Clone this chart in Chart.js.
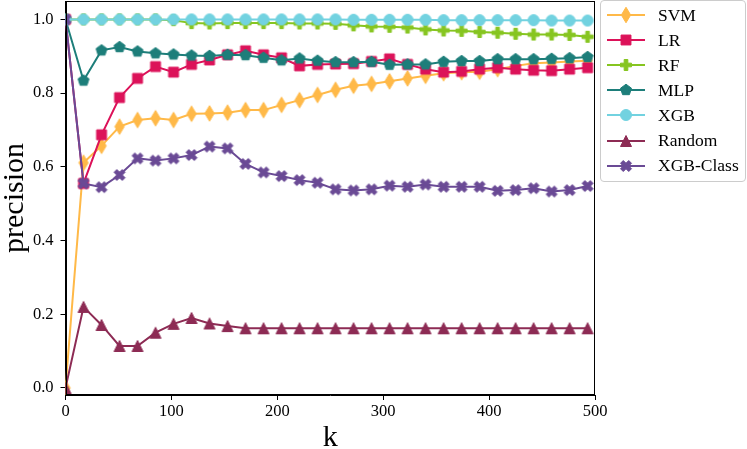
<!DOCTYPE html>
<html>
<head>
<meta charset="utf-8">
<script src="https://cdn.jsdelivr.net/npm/chart.js@4.4.1/dist/chart.umd.min.js"></script>
<style>
  html, body { margin: 0; padding: 0; background: #fff; }
  #contenedor { position: relative; width: 747px; height: 449px; }
  #leyenda {
    position: absolute; left: 600px; top: 0; width: 146px; height: 182px;
    box-sizing: border-box; border: 1px solid #cccccc; border-radius: 4px;
    font-family: "Liberation Serif"; font-size: 17.5px; color: #000;
  }
  .fila { position: absolute; left: 0; height: 22px; display: flex; align-items: center; }
  .fila canvas { margin-left: 6px; }
  .fila span { margin-left: 13px; white-space: nowrap; }
</style>
</head>
<body>
<div id="contenedor">
  <canvas id="myChart"></canvas>
  <div id="leyenda"></div>
</div>
<script>
// eje x: k
const kValores = [0, 17, 34, 51, 68, 85, 102, 119, 136, 153, 170, 187, 204, 221, 238,
  255, 272, 289, 306, 323, 340, 357, 374, 391, 408, 425, 442, 459, 476, 493];

const svm = [0.0, 0.611, 0.657, 0.709, 0.727, 0.732, 0.727, 0.744, 0.745, 0.747, 0.754, 0.754, 0.768, 0.781, 0.795,
  0.809, 0.820, 0.825, 0.832, 0.840, 0.847, 0.854, 0.857, 0.858, 0.865, 0.874, 0.881, 0.883, 0.886, 0.888];
const lr = [1.0, 0.555, 0.687, 0.788, 0.840, 0.872, 0.857, 0.878, 0.890, 0.904, 0.915, 0.904, 0.896, 0.874, 0.878,
  0.879, 0.880, 0.886, 0.893, 0.878, 0.865, 0.857, 0.859, 0.865, 0.869, 0.865, 0.862, 0.861, 0.865, 0.869];
const rf = [1.0, 1.0, 1.0, 1.0, 1.0, 1.0, 0.998, 0.990, 0.989, 0.990, 0.990, 0.990, 0.990, 0.989, 0.989,
  0.988, 0.984, 0.981, 0.980, 0.978, 0.973, 0.970, 0.969, 0.966, 0.964, 0.961, 0.959, 0.959, 0.958, 0.953];
const mlp = [1.0, 0.834, 0.916, 0.925, 0.913, 0.908, 0.905, 0.902, 0.901, 0.904, 0.903, 0.896, 0.889, 0.894, 0.888,
  0.884, 0.884, 0.885, 0.877, 0.878, 0.878, 0.885, 0.887, 0.887, 0.892, 0.892, 0.892, 0.893, 0.895, 0.898];
const xgb = [1.0, 1.0, 1.0, 1.0, 1.0, 1.0, 1.0, 1.0, 1.0, 1.0, 1.0, 1.0, 1.0, 1.0, 1.0,
  1.0, 0.999, 0.999, 0.999, 0.999, 0.999, 0.998, 0.998, 0.998, 0.998, 0.998, 0.998, 0.997, 0.997, 0.997];
const random = [0.0, 0.220, 0.171, 0.114, 0.114, 0.150, 0.174, 0.190, 0.175, 0.168, 0.162, 0.162, 0.162, 0.162, 0.162,
  0.162, 0.162, 0.162, 0.162, 0.162, 0.162, 0.162, 0.162, 0.162, 0.162, 0.162, 0.162, 0.162, 0.162, 0.162];
const xgbClass = [1.0, 0.555, 0.545, 0.578, 0.623, 0.617, 0.623, 0.632, 0.655, 0.650, 0.608, 0.585, 0.575, 0.564, 0.557,
  0.539, 0.536, 0.539, 0.549, 0.546, 0.552, 0.546, 0.546, 0.546, 0.535, 0.537, 0.542, 0.533, 0.537, 0.548];

const xTicks = [0, 100, 200, 300, 400, 500];
const yTicks = [0.0, 0.2, 0.4, 0.6, 0.8, 1.0];

const series = [
  { nombre: "SVM", valores: svm, color: "#FFB948", forma: "diamante" },
  { nombre: "LR", valores: lr, color: "#DC1259", forma: "cuadrado" },
  { nombre: "RF", valores: rf, color: "#86C520", forma: "mas" },
  { nombre: "MLP", valores: mlp, color: "#1D7E7A", forma: "pentagono" },
  { nombre: "XGB", valores: xgb, color: "#72D2E0", forma: "circulo" },
  { nombre: "Random", valores: random, color: "#8D2B54", forma: "triangulo" },
  { nombre: "XGB-Class", valores: xgbClass, color: "#6A4A95", forma: "equis" },
];

// dibuja la forma centrada en (cx, cy), tamaño s
const trazarForma = (ctx, forma, cx, cy, s) => {
  const h = s / 2;
  ctx.beginPath();
  if (forma === "circulo") {
    ctx.arc(cx, cy, h, 0, Math.PI * 2);
  } else if (forma === "cuadrado") {
    ctx.rect(cx - h * 0.9, cy - h * 0.9, s * 0.9, s * 0.9);
  } else if (forma === "diamante") {
    const v = s * 0.707, w = s * 0.424;
    ctx.moveTo(cx, cy - v); ctx.lineTo(cx + w, cy); ctx.lineTo(cx, cy + v); ctx.lineTo(cx - w, cy);
  } else if (forma === "triangulo") {
    ctx.moveTo(cx, cy - h); ctx.lineTo(cx + h, cy + h); ctx.lineTo(cx - h, cy + h);
  } else if (forma === "pentagono") {
    for (let i = 0; i < 5; i++) {
      const a = -Math.PI / 2 + i * 2 * Math.PI / 5;
      ctx.lineTo(cx + h * 1.05 * Math.cos(a), cy + h * 1.05 * Math.sin(a));
    }
  } else if (forma === "mas") {
    const u = s / 6;
    const pts = [[-1, -3], [1, -3], [1, -1], [3, -1], [3, 1], [1, 1], [1, 3], [-1, 3], [-1, 1], [-3, 1], [-3, -1], [-1, -1]];
    pts.forEach(([px, py]) => ctx.lineTo(cx + px * u, cy + py * u));
  } else if (forma === "equis") {
    const u = s / 4;
    const pts = [[-1, -2], [0, -1], [1, -2], [2, -1], [1, 0], [2, 1], [1, 2], [0, 1], [-1, 2], [-2, 1], [-1, 0], [-2, -1]];
    pts.forEach(([px, py]) => ctx.lineTo(cx + px * u, cy + py * u));
  }
  ctx.closePath();
  ctx.fill();
  ctx.stroke();
};

const TAM = 11;

const marcador = (forma, color) => {
  const c = document.createElement("canvas");
  c.width = 14;
  c.height = forma === "diamante" ? 19 : 14;
  const ctx = c.getContext("2d");
  ctx.fillStyle = color;
  ctx.strokeStyle = color;
  ctx.lineWidth = 1;
  trazarForma(ctx, forma, c.width / 2, c.height / 2, TAM);
  return c;
};

// muestra de la leyenda: linea + marcador
const muestra = (forma, color) => {
  const c = document.createElement("canvas");
  c.width = 38;
  c.height = 22;
  const ctx = c.getContext("2d");
  ctx.strokeStyle = color;
  ctx.lineWidth = 2;
  ctx.beginPath();
  ctx.moveTo(0, 11); ctx.lineTo(38, 11);
  ctx.stroke();
  ctx.fillStyle = color;
  ctx.lineWidth = 1;
  trazarForma(ctx, forma, 19, 11, TAM);
  return c;
};

const marco = {
  id: "marco",
  afterDatasetsDraw(chart) {
    const { ctx, chartArea: a } = chart;
    const l = Math.round(a.left) + 0.5, t = Math.round(a.top) + 0.5;
    const r = Math.round(a.right) - 0.5, b = Math.round(a.bottom) - 0.5;
    ctx.save();
    ctx.strokeStyle = "#000";
    ctx.lineWidth = 1;
    ctx.strokeRect(l, t, r - l, b - t);
    ctx.restore();
  },
};

Chart.defaults.font.family = "Liberation Serif";
Chart.defaults.color = "#000";

const n = series.length;
const myChart = new Chart(document.getElementById("myChart"), {
  type: "line",
  data: {
    datasets: series.map((s, i) => ({
      label: s.nombre,
      data: kValores.map((k, j) => ({ x: k, y: s.valores[j] })),
      borderColor: s.color,
      backgroundColor: s.color,
      borderWidth: 2,
      pointStyle: marcador(s.forma, s.color),
      pointRadius: 6,
      tension: 0,
      clip: 0,
      order: n - 1 - i, // la ultima serie queda encima
    })),
  },
  options: {
    responsive: true,
    maintainAspectRatio: false,
    animation: false,
    events: [],
    layout: { autoPadding: false, padding: { top: 1, right: 152, left: 0, bottom: 0 } },
    plugins: { legend: { display: false }, tooltip: { enabled: false } },
    scales: {
      x: {
        type: "linear",
        min: 0,
        max: 500,
        afterBuildTicks: (s) => { s.ticks = xTicks.map((v) => ({ value: v })); },
        afterFit: (s) => { s.height = 54; s.paddingLeft = 0; s.paddingRight = 0; },
        grid: { drawOnChartArea: false, tickLength: 5, color: "#000" },
        border: { color: "#000", width: 1 },
        ticks: { font: { size: 16.5 }, padding: 2, maxRotation: 0, autoSkip: false },
        title: { display: true, text: "k", font: { size: 30, lineHeight: 0.73 }, padding: 0 },
      },
      y: {
        min: -0.019,
        max: 1.05,
        afterBuildTicks: (s) => { s.ticks = yTicks.map((v) => ({ value: v })); },
        afterFit: (s) => { s.width = 65.5; s.paddingTop = 0; s.paddingBottom = 0; },
        grid: { drawOnChartArea: false, tickLength: 5, color: "#000" },
        border: { color: "#000", width: 1 },
        ticks: { font: { size: 16.5 }, padding: 7, callback: (v) => v.toFixed(1) },
        title: { display: true, text: "precision", font: { size: 30, lineHeight: 1 }, padding: 0 },
      },
    },
  },
  plugins: [marco],
});

// leyenda en html a partir de los datasets
const leyenda = document.getElementById("leyenda");
myChart.data.datasets.forEach((ds, i) => {
  const fila = document.createElement("div");
  fila.className = "fila";
  fila.style.top = (15 + 25.1 * i - 11 - 1) + "px";
  fila.appendChild(muestra(series[i].forma, ds.borderColor));
  const texto = document.createElement("span");
  texto.textContent = ds.label;
  fila.appendChild(texto);
  leyenda.appendChild(fila);
});
</script>
</body>
</html>
